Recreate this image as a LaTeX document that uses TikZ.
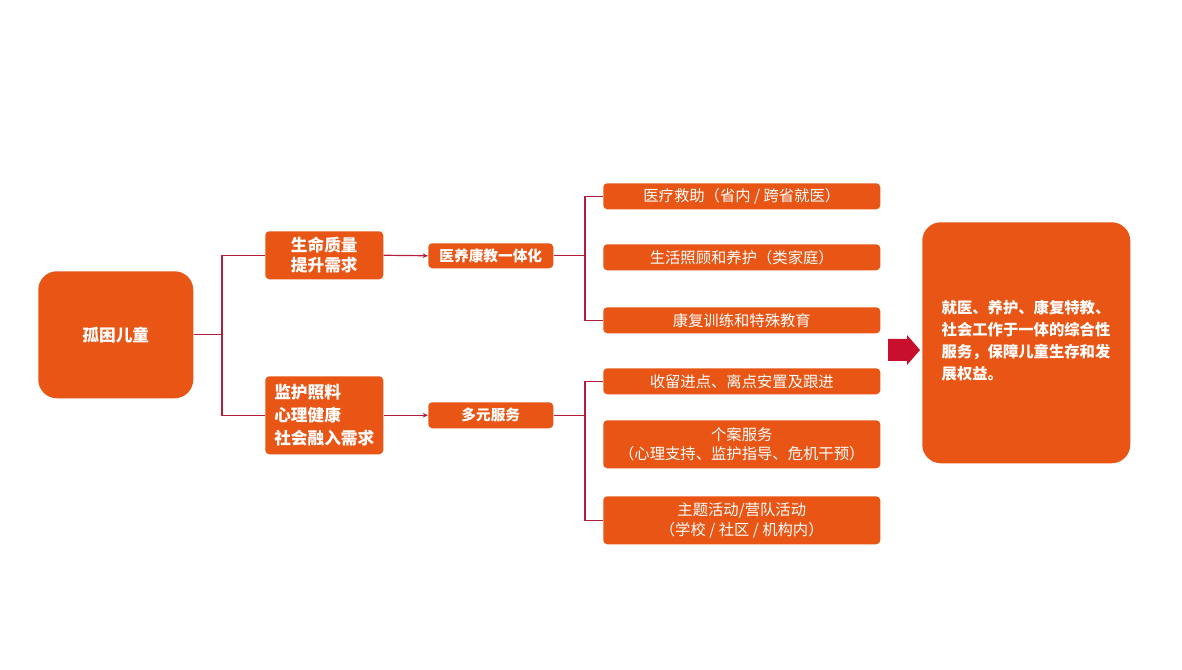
\documentclass[tikz,border=0pt]{standalone}
\usepackage{fontspec}
\setmainfont{Noto Sans CJK SC}
\usetikzlibrary{arrows.meta}
\definecolor{org}{HTML}{E85515}
\definecolor{lnc}{HTML}{B51E3A}
\definecolor{arw}{HTML}{C8102E}
\begin{document}
\begin{tikzpicture}[x=0.75pt,y=-0.75pt,
  bx/.style={fill=org,text=white,rounded corners=3pt,inner sep=0pt,align=center},
  ln/.style={draw=lnc,line width=0.9pt},
  ar/.style={ln,-{Stealth[length=4pt,width=3.5pt]}}]
\useasboundingbox (0,0) rectangle (1182,670);
\newcommand\bxat[6]{\node[bx,minimum width=#3*0.75pt,minimum height=#4*0.75pt,anchor=north west,#6] (#5) at (#1,#2) {};}
\bxat{38}{271}{155}{127}{root}{rounded corners=14pt}
\node[text=white,font=\bfseries\fontsize{12.5}{15}\selectfont] at (root.center) {孤困儿童};
\bxat{265}{231}{118}{48}{a}{}
\node[text=white,align=center,font=\bfseries\fontsize{12.5}{15}\selectfont] at (a.center) {生命质量\\提升需求};
\bxat{265}{376}{118}{78}{b}{}
\node[text=white,align=left,font=\bfseries\fontsize{12.5}{17}\selectfont] at (b.center) {监护照料\\心理健康\\社会融入需求};
\bxat{428}{243}{125}{25}{c}{}
\node[text=white,font=\bfseries\fontsize{11}{13}\selectfont] at (c.center) {医养康教一体化};
\bxat{428}{402}{125}{26}{d}{}
\node[text=white,font=\bfseries\fontsize{11}{13}\selectfont] at (d.center) {多元服务};
\bxat{603}{183}{277}{26}{r1}{}
\bxat{603}{244}{277}{26}{r2}{}
\bxat{603}{307}{277}{26}{r3}{}
\bxat{603}{368}{277}{26}{r4}{}
\bxat{603}{420}{277}{48}{r5}{}
\bxat{603}{496}{277}{48}{r6}{}
\begin{scope}[every node/.style={text=white,align=center,font=\fontsize{11.5}{14.5}\selectfont}]
\node at (r1.center) {医疗救助（省内 / 跨省就医）};
\node at (r2.center) {生活照顾和养护（类家庭）};
\node at (r3.center) {康复训练和特殊教育};
\node at (r4.center) {收留进点、离点安置及跟进};
\node at (r5.center) {个案服务\\（心理支持、监护指导、危机干预）};
\node at (r6.center) {主题活动/营队活动\\（学校 / 社区 / 机构内）};
\end{scope}
\bxat{922}{222}{208}{241}{big}{rounded corners=14pt}
\node[text=white,align=left,font=\bfseries\fontsize{11.5}{16.5}\selectfont,anchor=north] at (1026,296) {就医、养护、康复特教、\\社会工作于一体的综合性\\服务，保障儿童生存和发\\展权益。};
% connectors
\coordinate (j1) at (222,334);
\draw[ln] (root.east) -- (root.east -| j1);
\draw[ln] (a.west) -| (j1) |- (b.west);
\draw[ar] (a.east) -- (c.west);
\draw[ar] (b.east) -- (d.west);
\coordinate (j2) at (585,255);
\coordinate (j3) at (585,414);
\draw[ln] (c.east) -- (c.east -| j2);
\draw[ln] (r1.west) -| (j2) |- (r3.west);
\draw[ln] (d.east) -- (d.east -| j3);
\draw[ln] (r4.west) -| (j3) |- (r6.west);
% big arrow
\coordinate (as) at (888,350);
\fill[arw] (888,339) -- (907,339) -- (907,335) -- (920,350) -- (907,365) -- (907,361) -- (888,361) -- cycle;
\end{tikzpicture}
\end{document}
